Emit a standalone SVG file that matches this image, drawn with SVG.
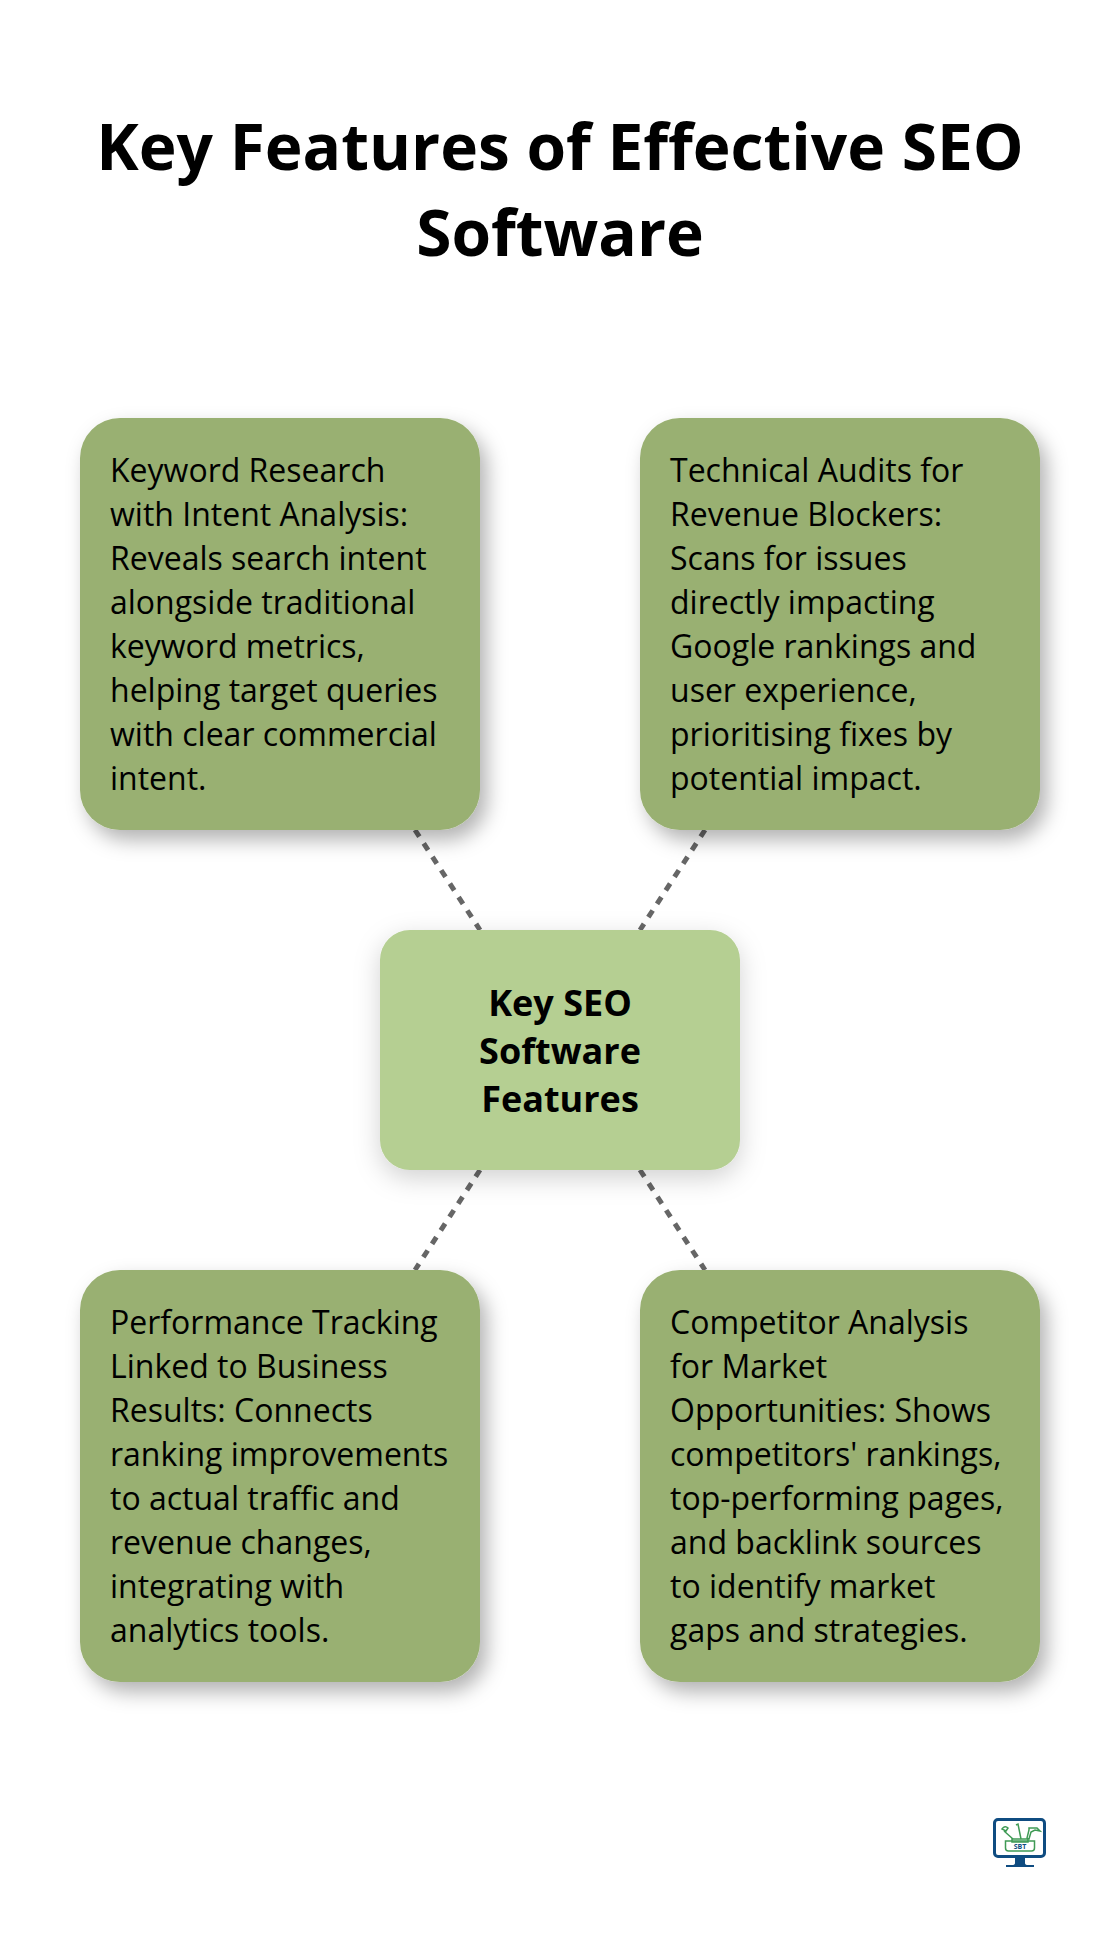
<svg xmlns="http://www.w3.org/2000/svg" width="1120" height="1942" viewBox="0 0 1120 1942">
<style>
text{font-family:"Open Sans","Noto Sans",sans-serif;fill:#000}
.t{font-size:64px;font-weight:700;text-anchor:middle}
.b{font-size:32px}
.c{font-size:36px;font-weight:700;text-anchor:middle}
.n{fill:#99b072;filter:url(#s)}
.m{fill:#b5cf92;filter:url(#s2)}
.l{stroke:#666;stroke-width:5;stroke-dasharray:8 8;fill:none}
.g{stroke:#3f9a55;fill:none;stroke-width:1.5}
</style>
<defs>
<filter id="s" x="-20%" y="-20%" width="140%" height="140%"><feDropShadow dx="7" dy="10" stdDeviation="10" flood-color="#000" flood-opacity=".3"/></filter>
<filter id="s2" x="-20%" y="-20%" width="140%" height="140%"><feDropShadow dx="0" dy="8" stdDeviation="13" flood-color="#000" flood-opacity=".18"/></filter>
</defs>
<rect width="1120" height="1942" fill="#fff"/>
<g id="title"><text class="t" x="560" y="170">Key Features of Effective SEO</text><text class="t" x="560" y="256">Software</text></g>
<g id="connectors">
<path class="l" d="M415 830 480 930"/><path class="l" d="M705 830 640 930"/><path class="l" d="M480 1170 415 1270"/><path class="l" d="M640 1170 705 1270"/>
</g>
<g id="node-keyword"><rect class="n" x="80" y="418" width="400" height="412" rx="40"/>
<text class="b" x="110" y="482">Keyword Research</text><text class="b" x="110" y="526">with Intent Analysis:</text><text class="b" x="110" y="570">Reveals search intent</text><text class="b" x="110" y="614">alongside traditional</text><text class="b" x="110" y="658">keyword metrics,</text><text class="b" x="110" y="702">helping target queries</text><text class="b" x="110" y="746">with clear commercial</text><text class="b" x="110" y="790">intent.</text></g>
<g id="node-audits"><rect class="n" x="640" y="418" width="400" height="412" rx="40"/>
<text class="b" x="670" y="482">Technical Audits for</text><text class="b" x="670" y="526">Revenue Blockers:</text><text class="b" x="670" y="570">Scans for issues</text><text class="b" x="670" y="614">directly impacting</text><text class="b" x="670" y="658">Google rankings and</text><text class="b" x="670" y="702">user experience,</text><text class="b" x="670" y="746">prioritising fixes by</text><text class="b" x="670" y="790">potential impact.</text></g>
<g id="node-center"><rect class="m" x="380" y="930" width="360" height="240" rx="30"/>
<text class="c" x="560" y="1016">Key SEO</text><text class="c" x="560" y="1064">Software</text><text class="c" x="560" y="1112">Features</text></g>
<g id="node-performance"><rect class="n" x="80" y="1270" width="400" height="412" rx="40"/>
<text class="b" x="110" y="1334">Performance Tracking</text><text class="b" x="110" y="1378">Linked to Business</text><text class="b" x="110" y="1422">Results: Connects</text><text class="b" x="110" y="1466">ranking improvements</text><text class="b" x="110" y="1510">to actual traffic and</text><text class="b" x="110" y="1554">revenue changes,</text><text class="b" x="110" y="1598">integrating with</text><text class="b" x="110" y="1642">analytics tools.</text></g>
<g id="node-competitor"><rect class="n" x="640" y="1270" width="400" height="412" rx="40"/>
<text class="b" x="670" y="1334">Competitor Analysis</text><text class="b" x="670" y="1378">for Market</text><text class="b" x="670" y="1422">Opportunities: Shows</text><text class="b" x="670" y="1466">competitors' rankings,</text><text class="b" x="670" y="1510">top-performing pages,</text><text class="b" x="670" y="1554">and backlink sources</text><text class="b" x="670" y="1598">to identify market</text><text class="b" x="670" y="1642">gaps and strategies.</text></g>
<g id="logo">
<rect x="994.5" y="1819.5" width="50" height="37" rx="3.5" fill="#fff" stroke="#0f4c81" stroke-width="3"/>
<path d="M1015 1858h10v5q0 2 3 2h6v2h-28v-2h6q3 0 3-2z" fill="#0f4c81"/>
<path class="g" d="M1005.500 1841h29v7q0 3-3 3h-23q-3 0-3-3z"/>
<path class="g" d="M1012 1839h16v3h-16z"/>
<path class="g" d="M1004 1831 1013 1839M1002 1829q3-4 6-1l-2 3zM1016 1825l2-1 3 15M1029 1828h8l3 3-5-1-4 2-2 7-2-1 2-8z"/>
<text x="1020" y="1848.500" font-size="7" font-weight="700" text-anchor="middle" style="fill:#0f4c81">SBT</text>
</g>
</svg>
